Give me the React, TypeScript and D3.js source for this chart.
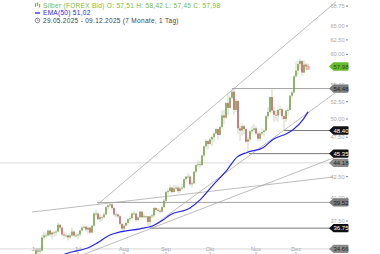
import React from 'react';
import * as d3 from 'd3';

const W = 380;
const H = 254;

// Daily candles 29.05.2025 - 09.12.2025 (trading days), [open, high, low, close]
const ohlc: [number, number, number, number][] = [
  [33.4, 33.6, 32.9, 33.2], [33.2, 33.5, 32.8, 33.0],
  [33.1, 34.7, 33.0, 34.5], [34.5, 34.7, 34.0, 34.4], [34.4, 34.8, 34.2, 34.5], [34.5, 36.1, 34.4, 35.8], [35.8, 36.4, 35.6, 36.0],
  [36.0, 36.3, 35.8, 36.0], [36.0, 36.6, 35.9, 36.5], [36.5, 36.6, 35.9, 36.1], [36.1, 36.4, 35.6, 36.3], [36.3, 36.5, 35.9, 36.3],
  [36.3, 36.5, 36.0, 36.4], [36.4, 37.3, 36.3, 37.1], [37.1, 37.2, 36.5, 36.8], [36.8, 36.9, 35.9, 36.1], [36.1, 36.4, 35.7, 36.0],
  [36.0, 36.3, 35.8, 36.0], [36.0, 36.1, 35.5, 35.8], [35.8, 36.2, 35.7, 36.0], [36.0, 36.8, 35.9, 36.4], [36.4, 36.5, 35.8, 36.0],
  [36.0, 36.2, 35.8, 36.0],
  [36.0, 36.3, 35.6, 36.1], [36.1, 36.6, 35.9, 36.5], [36.5, 37.0, 36.4, 36.8], [36.8, 37.0, 36.7, 36.9],
  [36.9, 37.0, 36.4, 36.6], [36.6, 37.0, 36.2, 36.8], [36.8, 36.9, 36.1, 36.3], [36.3, 37.1, 36.2, 37.0], [37.0, 38.4, 36.9, 38.3],
  [38.3, 38.7, 38.0, 38.3], [38.3, 38.4, 37.6, 37.7], [37.7, 38.2, 37.4, 37.9], [37.9, 38.1, 37.5, 37.9], [37.9, 38.4, 37.8, 38.2],
  [38.2, 39.1, 38.1, 39.0], [39.0, 39.3, 38.7, 39.2], [39.2, 39.52, 39.0, 39.3], [39.3, 39.4, 38.7, 38.9], [38.9, 39.0, 38.0, 38.2],
  [38.2, 38.4, 37.9, 38.2], [38.2, 38.3, 37.8, 38.0], [38.0, 38.1, 37.0, 37.2], [37.2, 37.3, 36.2, 36.7],
  [36.7, 37.1, 36.4, 37.0],
  [37.0, 37.4, 36.9, 37.3], [37.3, 37.8, 37.1, 37.7], [37.7, 38.0, 37.5, 37.8], [37.8, 38.4, 37.7, 38.3], [38.3, 38.6, 38.1, 38.3],
  [38.3, 38.4, 37.4, 37.6], [37.6, 38.0, 37.5, 37.9], [37.9, 38.6, 37.8, 38.5], [38.5, 38.6, 37.8, 37.9], [37.9, 38.2, 37.8, 38.0],
  [38.0, 38.1, 37.7, 38.0], [38.0, 38.0, 37.0, 37.4], [37.4, 38.1, 36.75, 38.0], [38.0, 38.3, 37.8, 38.1], [38.1, 39.0, 37.9, 38.9],
  [38.9, 39.0, 38.5, 38.7], [38.7, 38.9, 38.4, 38.6], [38.6, 38.8, 38.3, 38.5], [38.5, 39.2, 38.4, 39.0], [39.0, 39.9, 38.9, 39.7],
  [39.7, 40.9, 39.6, 40.7], [40.7, 41.1, 40.4, 40.8], [40.8, 41.5, 40.7, 41.2], [41.2, 41.3, 40.5, 40.7], [40.7, 41.5, 40.6, 41.1],
  [41.1, 41.5, 40.9, 41.2], [41.2, 41.4, 40.6, 40.8], [40.8, 41.3, 40.6, 41.1], [41.1, 41.6, 40.9, 41.2], [41.2, 42.3, 41.1, 42.2],
  [42.2, 42.6, 42.0, 42.5], [42.5, 42.9, 42.3, 42.5], [42.5, 42.7, 41.4, 41.6], [41.6, 42.0, 41.2, 41.7], [41.7, 43.2, 41.6, 43.1],
  [43.1, 44.0, 42.9, 43.9], [43.9, 44.5, 43.7, 44.0], [44.0, 44.4, 43.5, 43.9], [43.9, 45.2, 43.8, 45.1], [45.1, 46.4, 44.9, 46.3],
  [46.3, 47.2, 46.1, 47.0], [47.0, 47.1, 45.9, 46.6],
  [46.6, 47.5, 46.5, 47.2], [47.2, 47.7, 46.3, 47.5], [47.5, 48.1, 46.9, 48.0],
  [48.0, 48.8, 47.9, 48.6], [48.6, 48.7, 47.2, 47.8], [47.8, 49.1, 47.7, 48.9], [48.9, 51.2, 48.7, 50.5], [50.5, 51.3, 49.3, 50.2],
  [50.2, 52.5, 50.0, 52.3], [52.3, 53.6, 50.6, 51.6], [51.6, 53.3, 51.5, 53.1], [53.1, 54.2, 52.9, 54.0], [54.0, 54.48, 50.6, 51.3],
  [51.3, 52.9, 51.0, 52.6], [52.6, 52.8, 47.9, 48.7], [48.7, 49.1, 47.0, 48.4], [48.4, 49.4, 47.8, 49.0], [49.0, 49.2, 47.9, 48.6],
  [48.6, 48.7, 46.7, 46.9], [46.9, 47.5, 45.35, 47.2], [47.2, 48.5, 46.9, 48.3], [48.3, 49.1, 47.9, 48.5], [48.5, 49.3, 48.2, 48.7],
  [48.7, 49.0, 47.8, 48.0], [48.0, 48.2, 46.9, 47.3], [47.3, 48.3, 47.0, 48.0], [48.0, 48.7, 47.8, 48.2], [48.2, 48.6, 47.6, 48.4],
  [48.4, 50.6, 48.3, 50.4], [50.4, 51.7, 50.0, 51.0], [51.0, 53.3, 50.8, 53.2], [53.2, 54.4, 50.8, 51.2], [51.2, 51.8, 49.6, 50.6],
  [50.6, 51.2, 49.8, 50.5], [50.5, 51.5, 49.6, 51.3], [51.3, 51.9, 50.6, 51.4], [51.4, 51.6, 49.9, 50.4], [50.4, 50.6, 48.4, 50.0],
  [50.0, 51.3, 49.6, 51.2], [51.2, 51.6, 50.5, 51.3], [51.3, 53.5, 51.2, 53.4], [53.4, 54.2, 53.0, 53.9], [53.9, 56.6, 53.7, 56.4],
  [56.4, 58.8, 56.2, 57.3], [57.3, 58.9, 56.6, 58.4], [58.4, 59.3, 57.4, 58.9], [58.9, 59.0, 56.5, 57.0], [57.0, 59.0, 56.9, 58.3],
  [58.3, 58.6, 57.4, 58.0], [57.51, 58.42, 57.45, 57.98],
];

// EMA(50): [trading day index, value]
const ema50: [number, number][] = [
  [10, 33.7], [18, 34.26], [29, 34.85], [32.5, 35.23], [39, 36.05], [44, 36.36], [54, 36.68], [60.5, 37.0],
  [65.5, 37.6], [69, 38.15], [79, 38.9], [84, 39.8], [90.5, 41.5], [97.5, 43.3], [102.5, 44.9], [107.5, 45.5],
  [115.5, 46.1], [120.5, 47.2], [127.5, 48.0], [130.5, 48.5], [135.5, 49.9], [138, 51.02],
];

// axis ticks that are visible (the others sit under the price flags)
const yTicks = [37.5, 40, 42.5, 47.5, 50, 52.5, 55, 60, 62.5, 65, 68.75];
const monthLabels = ['Jun', 'Jul', 'Aug', 'Sep', 'Okt', 'Nov', 'Dez'];
const monthStartIdx = [2, 23, 46, 67, 89, 112, 132];

// horizontal levels: value, start index, kind
const levelValues = [54.48, 48.4, 45.35, 44.18, 39.52, 36.75, 34.66];
const levelStart = [100, 126, 108.5, -16, 32.5, 59, -16];
const levelKind = ['gray', 'black', 'black', 'light', 'gray', 'black', 'light'];

// trend lines: [startIdx, startVal, endIdx, endVal]
const trendLines: [number, number, number, number][] = [
  [32.5, 39.23, 152, 69.6],
  [0, 38.46, 150.5, 42.45],
  [14, 33.26, 153, 45.02],
  [59, 36.75, 153, 54.14],
];

const lastPrice = 57.98;
const emaLast = '51,02';
const headerTitle = 'Silber (FOREX Bid)  O: 57,51  H: 58,42  L: 57,45  C: 57,98';
const headerRange = '29.05.2025 - 09.12.2025   (7 Monate, 1 Tag)';

const FONT = '"Liberation Sans", Arial, sans-serif';

const x = d3.scaleLinear().domain([0, 138]).range([32, 308]);
const y = d3.scaleLog().domain([37.5, 65]).range([221, 26]);

const levelLine: Record<string, string> = { gray: '#8a8a8a', black: '#555', light: '#cfcfcf' };
const flagBg: Record<string, string> = { gray: '#7b7b7b', black: '#111', light: '#8a8a8a', green: '#66bb2e' };
const flagFg: Record<string, string> = { gray: '#222', black: '#fff', light: '#222', green: '#2a4a10' };

function Flag({ yy, text, kind }: { yy: number; text: string; kind: string }) {
  const tip = 329, l = 333.5, r = 348.5, h = 4.2;
  const d = `M${tip},${yy} L${l},${yy - h} L${r - 1},${yy - h} Q${r},${yy - h} ${r},${yy - h + 1} L${r},${yy + h - 1} Q${r},${yy + h} ${r - 1},${yy + h} L${l},${yy + h} Z`;
  return (
    <g>
      <path d={d} fill={flagBg[kind]} />
      <text x={341} y={yy} dy="0.35em" fontSize={6} textAnchor="middle" fill={flagFg[kind]} fontFamily={FONT}>
        {text}
      </text>
    </g>
  );
}

export default function App() {
  const emaPath = d3
    .line<[number, number]>()
    .x((d) => x(d[0]))
    .y((d) => y(d[1]))
    .curve(d3.curveMonotoneX)(ema50) as string;

  const fmt = (v: number) => v.toFixed(2);

  return (
    <svg width={W} height={H} style={{ position: 'absolute', left: 0, top: 0, background: '#fff' }}>
      {/* y tick labels */}
      {yTicks.map((t) => (
        <g key={t}>
          <text x={344.5} y={y(t)} dy="0.35em" fontSize={5.6} textAnchor="end" fill="#aaa" fontFamily={FONT}>
            {fmt(t)}
          </text>
          <line x1={346} x2={348} y1={y(t)} y2={y(t)} stroke="#666" strokeWidth={0.8} />
        </g>
      ))}

      {/* x axis labels */}
      {monthLabels.map((m, i) => (
        <g key={m}>
          <text x={x(monthStartIdx[i])} y={249} dy="0.35em" fontSize={5.6} textAnchor="middle" fill="#999" fontFamily={FONT}>
            {m}
          </text>
          <line x1={x(monthStartIdx[i])} x2={x(monthStartIdx[i])} y1={252} y2={254} stroke="#888" strokeWidth={0.7} />
        </g>
      ))}

      {/* horizontal levels */}
      {levelValues.map((v, i) => (
        <line key={'lv' + i} x1={x(levelStart[i])} x2={330} y1={y(v)} y2={y(v)} stroke={levelLine[levelKind[i]]} strokeWidth={0.8} />
      ))}

      {/* trend lines */}
      {trendLines.map((t, i) => (
        <line key={'tl' + i} x1={x(t[0])} y1={y(t[1])} x2={x(t[2])} y2={y(t[3])} stroke="#a0a0a0" strokeWidth={0.7} />
      ))}

      {/* candles */}
      {ohlc.map((c, i) => {
        const [o, h, l, cl] = c;
        const last = i === ohlc.length - 1;
        const up = cl >= o;
        const col = up ? '#74a043' : '#c25b5b';
        const cx = x(i);
        const top = y(Math.max(o, cl));
        const bot = y(Math.min(o, cl));
        return (
          <g key={i}>
            <line x1={cx} x2={cx} y1={y(h)} y2={y(l)} stroke={last ? '#c77' : '#b9c4ad'} strokeWidth={0.7} />
            <rect
              x={cx - (last ? 1.5 : 0.75)}
              y={top}
              width={last ? 3 : 1.5}
              height={Math.max(0.8, bot - top)}
              fill={last ? '#f4b4b4' : col}
              stroke={last ? '#e08888' : 'none'}
              strokeWidth={0.4}
            />
          </g>
        );
      })}

      {/* EMA */}
      <path d={emaPath} fill="none" stroke="#2626ee" strokeWidth={1.2} />

      {/* flags */}
      {levelValues.map((v, i) => (
        <Flag key={'fl' + i} yy={y(v)} text={fmt(v)} kind={levelKind[i]} />
      ))}
      <Flag yy={y(lastPrice)} text={fmt(lastPrice)} kind="green" />

      {/* header */}
      <g fontFamily={FONT} fontSize={6.5} letterSpacing={0.3} style={{ whiteSpace: 'pre' }}>
        <rect x={35} y={3} width={1.2} height={4} fill="#7cbf3a" />
        <rect x={37} y={2.5} width={1.2} height={3.5} fill="#7cbf3a" />
        <rect x={39} y={4} width={1.2} height={3.5} fill="#7cbf3a" />
        <text x={43} y={5.5} dy="0.35em" fill="#76b83a">{headerTitle}</text>
        <line x1={35} x2={40} y1={13} y2={13} stroke="#2626ee" strokeWidth={1.3} />
        <text x={43} y={13} dy="0.35em" fill="#2626ee">{'EMA(50)  ' + emaLast}</text>
        <circle cx={37.5} cy={20.5} r={2.3} fill="none" stroke="#444" strokeWidth={0.6} />
        <path d="M37.5,19.2 L37.5,20.6 L38.6,20.6" fill="none" stroke="#444" strokeWidth={0.5} />
        <text x={43} y={20.5} dy="0.35em" fill="#444">{headerRange}</text>
      </g>
    </svg>
  );
}
